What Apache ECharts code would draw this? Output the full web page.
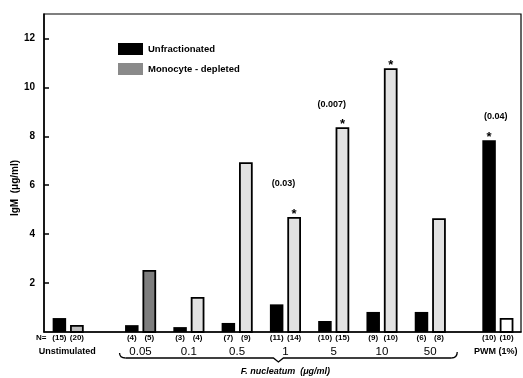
<!DOCTYPE html>
<html><head><meta charset="utf-8">
<script src="https://cdn.jsdelivr.net/npm/echarts@6/dist/echarts.min.js"></script>
<style>html,body{margin:0;padding:0;background:#fff}#c{width:523px;height:378px}</style>
</head><body><div id="c"></div>
<script>
// ---- data ----
const groups = ['Unstimulated','0.05','0.1','0.5','1','5','10','50','PWM (1%)'];
const groupPos = [0, 1.5, 2.5, 3.5, 4.5, 5.5, 6.5, 7.5, 8.9];
const unfractionated = [0.57, 0.28, 0.20, 0.37, 1.13, 0.45, 0.82, 0.82, 7.84];
const monocyteDepleted = [0.28, 2.53, 1.43, 6.94, 4.70, 8.37, 10.78, 4.65, 0.57];
const nUnfrac = ['(15)','(4)','(3)','(7)','(11)','(10)','(9)','(6)','(10)'];
const nMono = ['(20)','(5)','(4)','(9)','(14)','(15)','(10)','(8)','(10)'];
const sigUnfrac = [0,0,0,0,0,0,0,0,1];
const sigMono = [0,0,0,0,1,1,1,0,0];
const pLabels = ['(0.03)','(0.007)','(0.04)'];
const pGroup = [4, 5, 8];
const pY = [6.08, 9.3, 8.8];
const yTicks = [2,4,6,8,10,12];

const FONT = 'Liberation Sans, Arial, sans-serif';
const monoFill = ['#bdbdbd','#7e7e7e','#e2e2e2','#e2e2e2','#e2e2e2','#e2e2e2','#e2e2e2','#e2e2e2','#ffffff'];

const chart = echarts.init(document.getElementById('c'), null, {renderer:'canvas'});

function barSeries(name, values, nLab, sig, side){
  return {
    name: name, type: 'custom', clip: false,
    data: groupPos.map((p,i)=>[p, values[i], i]),
    encode: {x:0, y:1},
    itemStyle: {color: side<0 ? '#000' : '#8a8a8a'},
    renderItem: function(params, api){
      const i = api.value(2);
      const top = api.coord([api.value(0), api.value(1)]);
      const base = api.coord([api.value(0), 0]);
      const cx = top[0] + side*8.75;
      const w = 13.5;
      const children = [];
      if (side < 0) {
        children.push({type:'rect', shape:{x:cx-w/2, y:top[1], width:w, height:base[1]-top[1]}, style:{fill:'#000'}});
      } else {
        children.push({type:'rect', shape:{x:cx-w/2+0.8, y:top[1]+0.8, width:w-1.6, height:base[1]-top[1]-0.8}, style:{fill:monoFill[i], stroke:'#000', lineWidth:1.8}});
      }
      children.push({type:'text', x:cx, y:base[1]+6, style:{text:nLab[i], font:'bold 8px '+FONT, fill:'#000', textAlign:'center', textVerticalAlign:'middle'}});
      if (sig[i]) {
        children.push({type:'text', x:cx, y:top[1]-3, style:{text:'*', font:'bold 13px '+FONT, fill:'#000', textAlign:'center', textVerticalAlign:'middle'}});
      }
      return {type:'group', children: children};
    }
  };
}

const labelSeries = {
  type:'custom', clip:false, silent:true,
  data: groupPos.map((p,i)=>[p, 0, i]),
  encode:{x:0,y:1},
  renderItem: function(params, api){
    const i = api.value(2);
    const b = api.coord([api.value(0), 0]);
    const edge = (i===0 || i===8);
    const children = [{type:'text', x:b[0]-(i===0?1:0)+(i===8?-2:0), y:b[1]+20, style:{text:groups[i], font: edge ? 'bold 9px '+FONT : '11.5px '+FONT, fill:'#000', textAlign:'center', textVerticalAlign:'middle'}}];
    const k = pGroup.indexOf(i);
    if (k >= 0) {
      const t = api.coord([api.value(0), pY[k]]);
      children.push({type:'text', x:b[0]-2, y:t[1], style:{text:pLabels[k], font:'bold 9px '+FONT, fill:'#000', textAlign:'center', textVerticalAlign:'middle'}});
    }
    return {type:'group', children: children};
  }
};

chart.setOption({
  animation:false,
  backgroundColor:'#fff',
  grid:{left:44, right:2, top:14, bottom:46, show:true, borderColor:'#000', borderWidth:1.2, backgroundColor:'transparent'},
  legend:{
    data:['Unfractionated','Monocyte - depleted'], orient:'vertical', left:113, top:38,
    itemWidth:25, itemHeight:12, itemGap:8, icon:'rect',
    textStyle:{fontFamily:FONT, fontWeight:'bold', fontSize:9.5, color:'#000'}
  },
  xAxis:{type:'value', min:-0.5, max:9.38, axisLine:{show:true, onZero:false, lineStyle:{color:'#000', width:1.5}}, axisTick:{show:false}, axisLabel:{show:false}, splitLine:{show:false}},
  yAxis:{type:'value', min:0, max:13, interval:1,
    axisLine:{show:true, onZero:false, lineStyle:{color:'#000', width:1.5}},
    axisTick:{show:true, inside:true, length:5, lineStyle:{color:'#000', width:1.5}, customValues: yTicks},
    axisLabel:{fontFamily:FONT, fontWeight:'bold', fontSize:10, color:'#000', margin:9, customValues: yTicks},
    splitLine:{show:false}},
  series:[
    barSeries('Unfractionated', unfractionated, nUnfrac, sigUnfrac, -1),
    barSeries('Monocyte - depleted', monocyteDepleted, nMono, sigMono, 1),
    labelSeries
  ]
});

// decorations built from axis positions
const px = v => chart.convertToPixel({gridIndex:0}, [v, 0]);
const base = px(0)[1];
const xl = px(groupPos[1])[0] - 21;
const xr = px(groupPos[7])[0] + 27;
const xm = px(groupPos[4])[0] - 7;
const yb = base + 26;
chart.setOption({graphic:[
  {type:'text', x: 36, y: base+6, style:{text:'N=', font:'bold 8px '+FONT, fill:'#000', textVerticalAlign:'middle'}},
  {type:'bezierCurve', shape:{x1:xl, y1:yb-5, x2:xl+6, y2:yb, cpx1:xl, cpy1:yb}, style:{fill:null, stroke:'#000', lineWidth:1.3}},
  {type:'polyline', shape:{points:[[xl+6,yb],[xm-5,yb],[xm,yb+4],[xm+5,yb],[xr-6,yb]]}, style:{fill:null, stroke:'#000', lineWidth:1.3}},
  {type:'bezierCurve', shape:{x1:xr-6, y1:yb, x2:xr, y2:yb-6, cpx1:xr, cpy1:yb}, style:{fill:null, stroke:'#000', lineWidth:1.3}},
  {type:'text', x:(xl+xr)/2-3, y:yb+14, style:{text:'F. nucleatum  (μg/ml)', font:'italic bold 9px '+FONT, fill:'#000', textAlign:'center', textVerticalAlign:'middle'}},
  {type:'text', x:15, y:188, rotation:Math.PI/2, style:{text:'IgM  (μg/ml)', font:'bold 10px '+FONT, fill:'#000', textAlign:'center', textVerticalAlign:'middle'}}
]});
</script></body></html>
